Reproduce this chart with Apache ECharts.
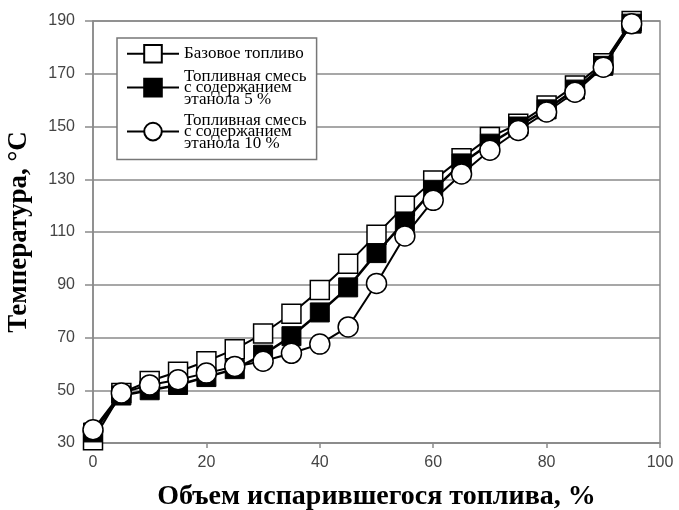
<!DOCTYPE html>
<html>
<head>
<meta charset="utf-8">
<script src="https://cdn.jsdelivr.net/npm/echarts@6/dist/echarts.min.js"></script>
<style>
html,body{margin:0;padding:0;background:#fff;}
#chart{width:679px;height:510px;}
</style>
</head>
<body>
<div id="chart"></div>
<script>
// Data
const xValues = [0, 5, 10, 15, 20, 25, 30, 35, 40, 45, 50, 55, 60, 65, 70, 75, 80, 85, 90, 95];
const baseFuel = [31, 49, 53.5, 57, 61, 65.5, 71.5, 79, 88, 98, 109, 120, 129.5, 138, 146, 151, 158, 165.5, 174, 190];
const ethanol5 = [34, 48, 50, 52, 55, 58, 63.5, 70.5, 79.5, 89, 102, 114, 126, 136, 143.5, 150, 156.5, 164, 173, 189];
const ethanol10 = [35, 49, 52, 54, 56.5, 59, 61, 64, 67.5, 74, 90.5, 108.5, 122, 132, 141, 148.5, 155.5, 163, 172.5, 189];
const yTicks = [30, 50, 70, 90, 110, 130, 150, 170, 190];
const xTicks = [0, 20, 40, 60, 80, 100];
const seriesNames = [
  'Базовое топливо',
  'Топливная смесь\nс содержанием\nэтанола 5 %',
  'Топливная смесь\nс содержанием\nэтанола 10 %'
];
const xTitle = 'Объем испарившегося топлива, %';
const yTitle = 'Температура, °С';

function pairs(ys){ return xValues.map((x,i)=>[x, ys[i]]); }

const chart = echarts.init(document.getElementById('chart'), null, {renderer:'canvas'});
const lineStyle = {color:'#000', width:2};
chart.setOption({
  backgroundColor:'#fff',
  animation:false,
  grid:{left:93, right:19, top:21, bottom:67, show:true, borderColor:'#8a8a8a', borderWidth:1.5,
        backgroundColor:'transparent', outerBoundsMode:'none', containLabel:false},
  legend:{
    orient:'vertical',
    left:117, top:38,
    padding:[6,10,8,9],
    backgroundColor:'#fff',
    borderColor:'#777', borderWidth:1.5,
    itemWidth:52, itemHeight:22, itemGap:4,
    textStyle:{fontFamily:'Liberation Serif', fontSize:17, color:'#000', lineHeight:11.5},
    data: seriesNames
  },
  xAxis:{
    type:'value', min:0, max:100, interval:20,
    name:xTitle, nameLocation:'middle', nameGap:40,
    nameTextStyle:{fontFamily:'Liberation Serif', fontWeight:'bold', fontSize:28, color:'#000'},
    axisLine:{show:true, lineStyle:{color:'#8a8a8a', width:1.5}},
    axisTick:{show:true, inside:false, length:5, lineStyle:{color:'#8a8a8a', width:1.5}},
    axisLabel:{fontFamily:'Liberation Sans', fontSize:16, color:'#444', margin:12, showMaxLabel:true},
    splitLine:{show:false}
  },
  yAxis:{
    type:'value', min:30, max:190,
    name:yTitle, nameLocation:'middle', nameGap:60,
    nameTextStyle:{fontFamily:'Liberation Serif', fontWeight:'bold', fontSize:27, color:'#000'},
    axisLine:{show:true, lineStyle:{color:'#8a8a8a', width:1.5}},
    axisTick:{show:true, inside:false, length:8, lineStyle:{color:'#8a8a8a', width:1.5}, customValues:yTicks},
    axisLabel:{fontFamily:'Liberation Sans', fontSize:16, color:'#444', margin:18, customValues:yTicks},
    splitLine:{show:true, lineStyle:{color:'#8a8a8a', width:1.5}}
  },
  series:[
    {name:seriesNames[0], type:'line', data:pairs(baseFuel), symbol:'rect', symbolSize:19,
     lineStyle:lineStyle, itemStyle:{color:'#fff', borderColor:'#000', borderWidth:1.5}, z:2},
    {name:seriesNames[1], type:'line', data:pairs(ethanol5), symbol:'rect', symbolSize:19,
     lineStyle:{color:'#000', width:2.5}, itemStyle:{color:'#000', borderColor:'#000', borderWidth:1}, z:3},
    {name:seriesNames[2], type:'line', data:pairs(ethanol10), symbol:'circle', symbolSize:20,
     lineStyle:lineStyle, itemStyle:{color:'#fff', borderColor:'#000', borderWidth:1.5}, z:4}
  ]
});
</script>
</body>
</html>
